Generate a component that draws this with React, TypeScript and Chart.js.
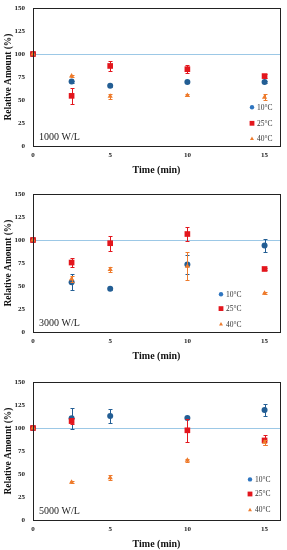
import React, { useEffect, useRef } from "react";
import { Chart, registerables } from "chart.js";

Chart.register(...registerables);

// ---------- data ----------
const timeMin = [0, 2.5, 5, 10, 15];
const seriesLabels = ["10°C", "25°C", "40°C"];
const panelLabels = ["1000 W/L", "3000 W/L", "5000 W/L"];
const xTickValues = [0, 5, 10, 15];
const referenceLevel = 100;

// 1000 W/L
const p1Temp10 = [100, 70, 65.5, 69.5, 69.5];
const p1Temp10Err = [0, 1, 1, 1, 1];
const p1Temp25 = [100, 54.5, 87, 83.5, 76];
const p1Temp25Err = [0, 9, 5, 4.5, 2];
const p1Temp40 = [100, 76, 54, 55, 53];
const p1Temp40Err = [0, 1, 2.5, 1, 3];

// 3000 W/L
const p2Temp10 = [100, 54, 47, 73.5, 94];
const p2Temp10Err = [0, 8.5, 1, 10, 7];
const p2Temp25 = [100, 75.5, 96.5, 106.5, 68.5];
const p2Temp25Err = [0, 4.5, 8, 8, 1.5];
const p2Temp40 = [100, 57.5, 68, 71.5, 42];
const p2Temp40Err = [0, 3, 2.5, 15, 1];

// 5000 W/L
const p3Temp10 = [100, 110.5, 113, 111, 119.5];
const p3Temp10Err = [0, 11.5, 8, 1.5, 6.5];
const p3Temp25 = [100, 107.5, null, 97.5, 86.5];
const p3Temp25Err = [0, 3, 0, 12.5, 5.5];
const p3Temp40 = [100, 41, 46, 65, 84.5];
const p3Temp40Err = [0, 1, 2.5, 1.5, 3];

// ---------- styles ----------
const COLORS = ["#235e94", "#e3161d", "#ee7b2c"];
const LEGEND_COLORS = ["#2e75c0", "#e3161d", "#ee7b2c"];
const SHAPES = ["circle", "rect", "triangle"];
const RADII = [3, 4, 3];
const SERIF = "'Liberation Serif', 'DejaVu Serif', serif";

function drawMarker(ctx: CanvasRenderingContext2D, shape: string, x: number, y: number, r: number, color: string) {
  ctx.save();
  ctx.fillStyle = color;
  ctx.beginPath();
  if (shape === "circle") {
    ctx.arc(x, y, r, 0, Math.PI * 2);
  } else if (shape === "rect") {
    const s = r * Math.SQRT1_2;
    ctx.rect(x - s, y - s, 2 * s, 2 * s);
  } else {
    ctx.moveTo(x, y - r);
    ctx.lineTo(x + r * 0.9, y + r * 0.6);
    ctx.lineTo(x - r * 0.9, y + r * 0.6);
    ctx.closePath();
  }
  ctx.fill();
  ctx.restore();
}

const errorBarsPlugin = {
  id: "errorBars",
  beforeDatasetDraw(chart: any, args: any) {
    const ds = chart.data.datasets[args.index];
    const ys = chart.scales.y;
    const ctx = chart.ctx;
    ctx.save();
    ctx.strokeStyle = ds.borderColor;
    ctx.lineWidth = 1;
    args.meta.data.forEach((pt: any, i: number) => {
      const d = ds.data[i];
      if (!d || !d.e) return;
      const t = Math.round(ys.getPixelForValue(d.y + d.e)) + 0.5;
      const b = Math.round(ys.getPixelForValue(d.y - d.e)) + 0.5;
      const x = Math.round(pt.x) + 0.5;
      ctx.beginPath();
      ctx.moveTo(x, t);
      ctx.lineTo(x, b);
      ctx.moveTo(x - 2, t);
      ctx.lineTo(x + 2, t);
      ctx.moveTo(x - 2, b);
      ctx.lineTo(x + 2, b);
      ctx.stroke();
    });
    ctx.restore();
  },
};

const decorPlugin = {
  id: "decor",
  beforeDatasetsDraw(chart: any) {
    const { ctx, chartArea, scales } = chart;
    const y = Math.round(scales.y.getPixelForValue(referenceLevel)) + 0.5;
    ctx.save();
    ctx.strokeStyle = "#9cc8e6";
    ctx.lineWidth = 1;
    ctx.beginPath();
    ctx.moveTo(chartArea.left, y);
    ctx.lineTo(chartArea.right, y);
    ctx.stroke();
    ctx.restore();
  },
  afterDraw(chart: any, _args: any, opts: any) {
    const { ctx, chartArea } = chart;
    ctx.save();
    ctx.strokeStyle = "#222";
    ctx.lineWidth = 1;
    ctx.strokeRect(
      Math.round(chartArea.left) + 0.5,
      Math.round(chartArea.top) + 0.5,
      Math.round(chartArea.right - chartArea.left),
      Math.round(chartArea.bottom - chartArea.top)
    );
    // panel label
    ctx.fillStyle = "#222";
    ctx.font = `10px ${SERIF}`;
    ctx.textBaseline = "middle";
    ctx.textAlign = "left";
    ctx.fillText(opts.label, chartArea.left + 6, chartArea.bottom - 9);
    // legend
    ctx.font = `7.5px ${SERIF}`;
    seriesLabels.forEach((name, i) => {
      const ly = chartArea.bottom - opts.legendRows[i];
      drawMarker(ctx, SHAPES[i], opts.legendX, ly, i === 1 ? 3.4 : 2.2, LEGEND_COLORS[i]);
      ctx.fillStyle = "#333";
      ctx.fillText(name, opts.legendX + 5, ly + 0.5);
    });
    ctx.restore();
  },
};

type PanelProps = {
  top: number;
  values: (number | null)[][];
  errors: number[][];
  label: string;
  legendX: number;
  legendRows: number[];
};

function Panel({ top, values, errors, label, legendX, legendRows }: PanelProps) {
  const ref = useRef<HTMLCanvasElement>(null);
  useEffect(() => {
    const datasets = values.map((series, i) => ({
      label: seriesLabels[i],
      data: timeMin
        .map((t, j) => (series[j] == null ? null : { x: t, y: series[j] as number, e: errors[i][j] }))
        .filter((p) => p !== null),
      order: values.length - 1 - i,
      pointStyle: SHAPES[i],
      pointRadius: RADII[i],
      pointHoverRadius: RADII[i],
      backgroundColor: COLORS[i],
      borderColor: COLORS[i],
      pointBorderWidth: 0,
      showLine: false,
      clip: false as any,
    }));
    const chart = new Chart(ref.current!, {
      type: "scatter",
      data: { datasets: datasets as any },
      plugins: [errorBarsPlugin, decorPlugin],
      options: {
        animation: false,
        responsive: false,
        events: [],
        layout: { padding: { top: 8, right: 7, left: 0, bottom: 0 } },
        plugins: {
          legend: { display: false },
          tooltip: { enabled: false },
          decor: { label, legendX, legendRows },
        } as any,
        scales: {
          x: {
            type: "linear",
            min: 0,
            max: 16,
            grid: { display: false, drawTicks: false },
            border: { display: false },
            afterBuildTicks: (s: any) => {
              s.ticks = xTickValues.map((v) => ({ value: v }));
            },
            afterFit: (s: any) => {
              s.height = 30;
              s.paddingLeft = 0;
              s.paddingRight = 0;
            },
            ticks: {
              padding: 5,
              color: "#222",
              font: { family: SERIF, size: 7, weight: "bold" },
            },
            title: {
              display: true,
              text: "Time (min)",
              color: "#111",
              padding: { top: 0, bottom: 0 },
              font: { family: SERIF, size: 10, weight: "bold" },
            },
          },
          y: {
            type: "linear",
            min: 0,
            max: 150,
            grid: { display: false, drawTicks: false },
            border: { display: false },
            afterFit: (s: any) => {
              s.width = 33;
              s.paddingTop = 0;
              s.paddingBottom = 0;
            },
            ticks: {
              stepSize: 25,
              padding: 8,
              color: "#222",
              font: { family: SERIF, size: 7, weight: "bold" },
            },
            title: {
              display: true,
              text: "Relative Amount (%)",
              color: "#111",
              padding: { top: 3, bottom: 0 },
              font: { family: SERIF, size: 9.5, weight: "bold" },
            },
          },
        },
      },
    });
    return () => chart.destroy();
  }, []);
  return (
    <div style={{ position: "absolute", left: 0, top, width: 287, height: 176 }}>
      <canvas ref={ref} width={287} height={176} style={{ display: "block" }} />
    </div>
  );
}

export default function App() {
  return (
    <div style={{ position: "absolute", left: 0, top: 0, width: 287, height: 550, background: "#fff" }}>
      <Panel
        top={0}
        values={[p1Temp10, p1Temp25, p1Temp40]}
        errors={[p1Temp10Err, p1Temp25Err, p1Temp40Err]}
        label={panelLabels[0]}
        legendX={252}
        legendRows={[38.7, 22.7, 7.3]}
      />
      <Panel
        top={186}
        values={[p2Temp10, p2Temp25, p2Temp40]}
        errors={[p2Temp10Err, p2Temp25Err, p2Temp40Err]}
        label={panelLabels[1]}
        legendX={221}
        legendRows={[37.7, 23.4, 7.7]}
      />
      <Panel
        top={374}
        values={[p3Temp10, p3Temp25, p3Temp40]}
        errors={[p3Temp10Err, p3Temp25Err, p3Temp40Err]}
        label={panelLabels[2]}
        legendX={250}
        legendRows={[40.6, 26, 10]}
      />
    </div>
  );
}
